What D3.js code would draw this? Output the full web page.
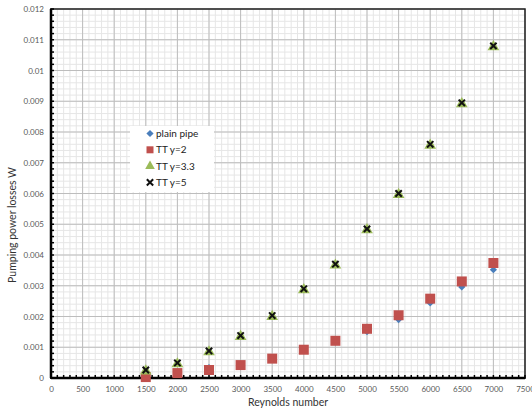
<!DOCTYPE html>
<html>
<head>
<meta charset="utf-8">
<script src="https://cdn.jsdelivr.net/npm/d3@7"></script>
<style>
  body { margin: 0; background: #fff; }
  text { font-family: Lato, "Open Sans", sans-serif; }
</style>
</head>
<body>
<div id="chart"></div>
<script>
// values
const reynolds = [1500, 2000, 2500, 3000, 3500, 4000, 4500, 5000, 5500, 6000, 6500, 7000];
const plainPipe = [0.00004, 0.00018, 0.00034, 0.00043, 0.00066, 0.00092, 0.0012, 0.00151, 0.0019, 0.00244, 0.00296, 0.00352];
const ttY2 = [0.00003, 0.00016, 0.00026, 0.00042, 0.00063, 0.00092, 0.00121, 0.0016, 0.00204, 0.00258, 0.00314, 0.00374];
const ttY33 = [0.00026, 0.00049, 0.00088, 0.00138, 0.00203, 0.0029, 0.0037, 0.00485, 0.006, 0.0076, 0.00895, 0.0108];
const ttY5 = [0.00026, 0.00049, 0.00088, 0.00138, 0.00203, 0.0029, 0.0037, 0.00485, 0.006, 0.0076, 0.00895, 0.0108];
const xTicks = d3.range(0, 7501, 500);
const yTicks = d3.range(0, 13).map(d => d / 1000);
const seriesNames = ["plain pipe", "TT y=2", "TT y=3.3", "TT y=5"];

class ScatterChart {
  constructor() {
    this.svgWidth = 532;
    this.svgHeight = 411;
    this.margin = {top: 9, right: 7, bottom: 33, left: 51};
    this.svg = d3.select("#chart").append("svg")
      .attr("width", this.svgWidth)
      .attr("height", this.svgHeight);
  }

  draw() {
    let m = this.margin;
    let xScale = d3.scaleLinear().domain([0, 7500]).range([m.left, this.svgWidth - m.right]);
    let yScale = d3.scaleLinear().domain([0, 0.012]).range([this.svgHeight - m.bottom, m.top]);
    let x0 = xScale(0), x1 = xScale(7500), y0 = yScale(0), y1 = yScale(0.012);

    // minor grid
    let grid = this.svg.append("g");
    grid.selectAll(".vmin").data(d3.range(0, 7501, 100)).enter().append("line")
      .attr("x1", d => xScale(d)).attr("x2", d => xScale(d))
      .attr("y1", y1).attr("y2", y0)
      .attr("stroke", "#e6e6e6").attr("stroke-width", 1);
    grid.selectAll(".hmin").data(d3.range(0, 61).map(d => d * 0.0002)).enter().append("line")
      .attr("x1", x0).attr("x2", x1)
      .attr("y1", d => yScale(d)).attr("y2", d => yScale(d))
      .attr("stroke", "#e6e6e6").attr("stroke-width", 1);
    // major grid
    grid.selectAll(".vmaj").data(xTicks).enter().append("line")
      .attr("x1", d => xScale(d)).attr("x2", d => xScale(d))
      .attr("y1", y1).attr("y2", y0)
      .attr("stroke", "#bdbdbd").attr("stroke-width", 1);
    grid.selectAll(".hmaj").data(yTicks).enter().append("line")
      .attr("x1", x0).attr("x2", x1)
      .attr("y1", d => yScale(d)).attr("y2", d => yScale(d))
      .attr("stroke", "#bdbdbd").attr("stroke-width", 1);

    // frame top/right
    this.svg.append("path")
      .attr("d", `M${x0},${y1}H${x1}V${y0}`)
      .attr("fill", "none").attr("stroke", "#222").attr("stroke-width", 1.5);

    // axes
    let xAxis = d3.axisBottom(xScale).tickValues(xTicks).tickSize(0).tickPadding(8).tickFormat(d3.format("d"));
    let yAxis = d3.axisLeft(yScale).tickValues(yTicks).tickSize(0).tickPadding(7).tickFormat(d => d === 0 ? "0" : String(+d.toFixed(3)));
    let gx = this.svg.append("g").attr("transform", "translate(0," + y0 + ")").call(xAxis);
    let gy = this.svg.append("g").attr("transform", "translate(" + x0 + ",0)").call(yAxis);
    [gx, gy].forEach(g => {
      g.select(".domain").remove();
      g.selectAll("text").attr("fill", "#595959").style("font-size", "8px");
    });

    // axis lines with minor ticks
    this.svg.append("line").attr("x1", x0).attr("x2", x1).attr("y1", y0).attr("y2", y0)
      .attr("stroke", "#000").attr("stroke-width", 2.5);
    this.svg.append("line").attr("x1", x0).attr("x2", x0).attr("y1", y1).attr("y2", y0)
      .attr("stroke", "#000").attr("stroke-width", 2.5);
    this.svg.selectAll(".xt").data(d3.range(0, 7501, 100)).enter().append("line")
      .attr("x1", d => xScale(d)).attr("x2", d => xScale(d))
      .attr("y1", y0 - 3).attr("y2", y0 + 1)
      .attr("stroke", "#000").attr("stroke-width", 1.5);
    this.svg.selectAll(".yt").data(d3.range(0, 61).map(d => d * 0.0002)).enter().append("line")
      .attr("x1", x0 - 1).attr("x2", x0 + 3)
      .attr("y1", d => yScale(d)).attr("y2", d => yScale(d))
      .attr("stroke", "#000").attr("stroke-width", 1.5);

    // markers
    let sym = {
      diamond: d3.symbol().type(d3.symbolSquare).size(26),
      square: d3.symbol().type(d3.symbolSquare).size(100),
      triangle: d3.symbol().type(d3.symbolTriangle).size(60),
      cross: d3.symbol().type(d3.symbolTimes).size(28)
    };
    let pts = this.svg.append("g");
    pts.selectAll(".pp").data(reynolds).enter().append("path")
      .attr("d", sym.diamond)
      .attr("transform", (d, i) => `translate(${xScale(d)},${yScale(plainPipe[i])}) rotate(45)`)
      .attr("fill", "#4a7ebb");
    pts.selectAll(".t2").data(reynolds).enter().append("path")
      .attr("d", sym.square)
      .attr("transform", (d, i) => `translate(${xScale(d)},${yScale(ttY2[i])})`)
      .attr("fill", "#c0504d");
    pts.selectAll(".t33").data(reynolds).enter().append("path")
      .attr("d", sym.triangle)
      .attr("transform", (d, i) => `translate(${xScale(d)},${yScale(ttY33[i]) + 1})`)
      .attr("fill", "#9bbb59");
    pts.selectAll(".t5").data(reynolds).enter().append("path")
      .attr("d", sym.cross)
      .attr("transform", (d, i) => `translate(${xScale(d)},${yScale(ttY5[i])})`)
      .attr("fill", "none").attr("stroke", "#111").attr("stroke-width", 2);

    // legend
    let leg = this.svg.append("g");
    leg.append("rect").attr("x", 130).attr("y", 126).attr("width", 84).attr("height", 66).attr("fill", "#fff");
    let legSym = [
      {d: sym.diamond, fill: "#4a7ebb", rot: 45},
      {d: d3.symbol().type(d3.symbolSquare).size(49), fill: "#c0504d", rot: 0},
      {d: d3.symbol().type(d3.symbolTriangle).size(40), fill: "#9bbb59", rot: 0},
      {d: sym.cross, fill: "none", stroke: "#111", rot: 0}
    ];
    seriesNames.forEach((name, i) => {
      let cy = 133.5 + i * 16.3;
      leg.append("path").attr("d", legSym[i].d)
        .attr("transform", `translate(150,${cy}) rotate(${legSym[i].rot})`)
        .attr("fill", legSym[i].fill)
        .attr("stroke", legSym[i].stroke || "none").attr("stroke-width", 2);
      leg.append("text").attr("x", 156).attr("y", cy + 3.5)
        .style("font-size", "10px").attr("fill", "#222").text(name);
    });

    // titles
    this.svg.append("text").attr("x", 288).attr("y", 406).attr("text-anchor", "middle")
      .style("font-size", "10.5px").attr("fill", "#333").text("Reynolds number");
    this.svg.append("text").attr("transform", "translate(16,225) rotate(-90)").attr("text-anchor", "middle")
      .style("font-size", "10.5px").attr("fill", "#333").text("Pumping power losses W");
  }
}

let chart = new ScatterChart();
chart.draw();
</script>
</body>
</html>
